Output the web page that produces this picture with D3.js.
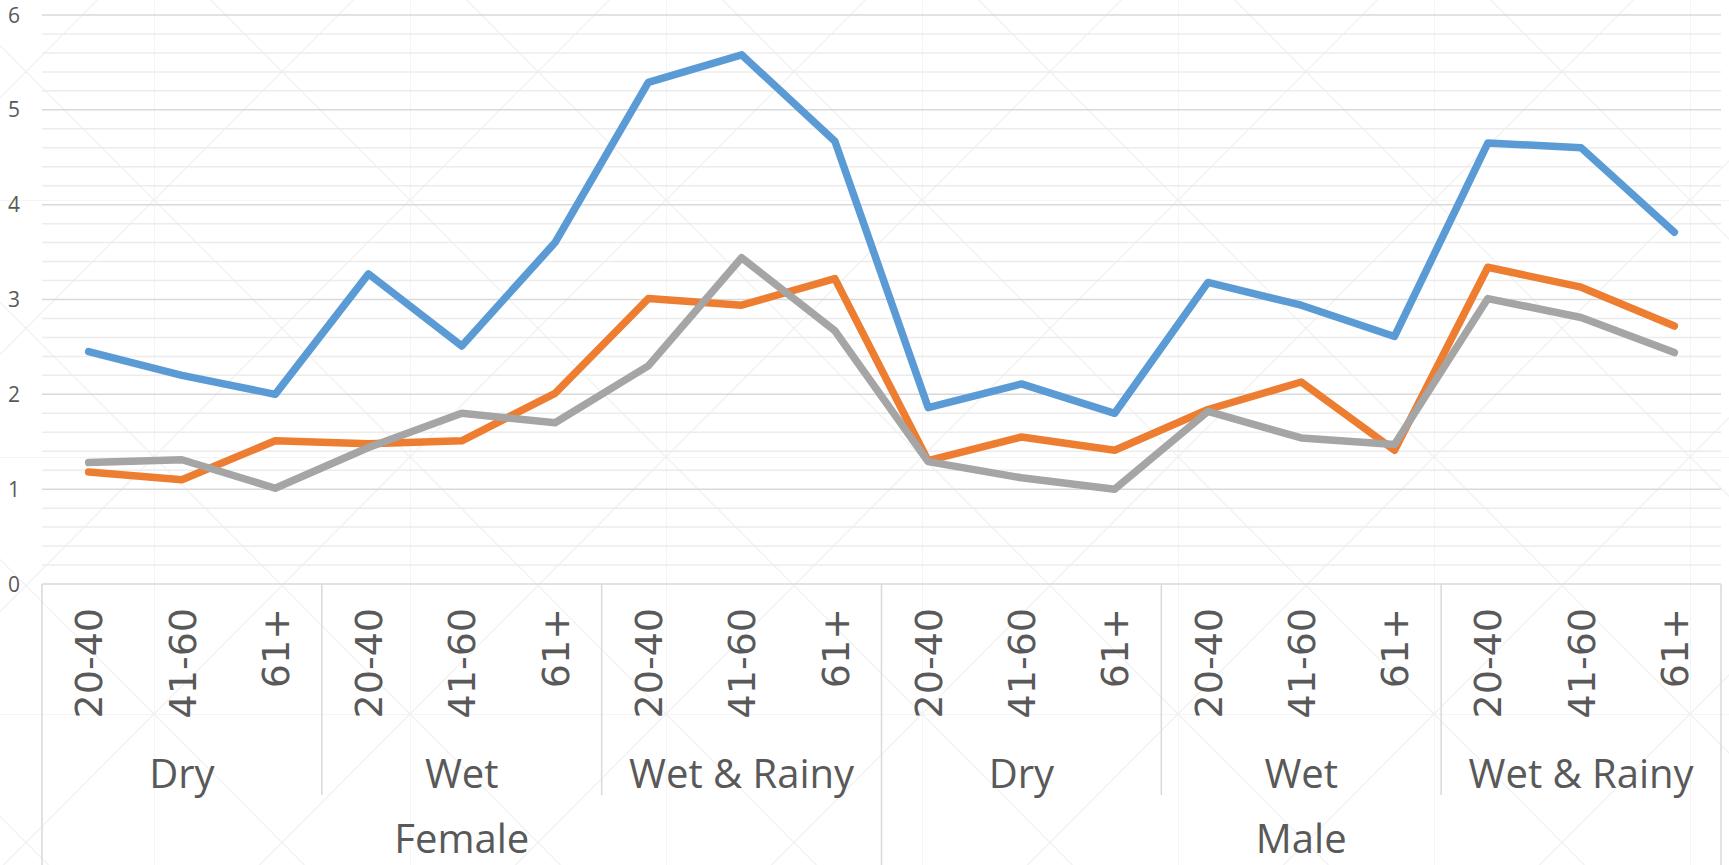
<!DOCTYPE html>
<html>
<head>
<meta charset="utf-8">
<script src="https://cdnjs.cloudflare.com/ajax/libs/d3/7.8.5/d3.min.js"></script>
<style>
  html, body { margin: 0; padding: 0; background: #fff; overflow: hidden; }
  svg { display: block; }
  text { font-family: "Open Sans", "Noto Sans", sans-serif; fill: #595959; }
</style>
</head>
<body>
<svg id="chart" width="1729" height="865"></svg>
<script>
// categories (3 levels)
var genders = ["Female", "Male"];
var seasons = ["Dry", "Wet", "Wet & Rainy"];
var ages = ["20-40", "41-60", "61+"];
var yTicks = [0, 1, 2, 3, 4, 5, 6];

// series values, one per gender/season/age
var seriesBlue = [2.45, 2.20, 2.00, 3.27, 2.51, 3.60, 5.29, 5.58, 4.67,
                  1.86, 2.11, 1.80, 3.18, 2.94, 2.61, 4.65, 4.60, 3.71];
var seriesOrange = [1.18, 1.10, 1.51, 1.48, 1.51, 2.01, 3.01, 2.94, 3.22,
                    1.30, 1.55, 1.41, 1.84, 2.13, 1.41, 3.34, 3.13, 2.72];
var seriesGray = [1.28, 1.31, 1.01, 1.44, 1.80, 1.70, 2.30, 3.44, 2.67,
                  1.29, 1.12, 1.00, 1.82, 1.54, 1.47, 3.01, 2.81, 2.44];

function draw_chart()
{
    var svg = d3.select("svg#chart"),
        width = +svg.attr("width"),
        height = +svg.attr("height");

    var left = 42, right = 1721, top = 15, bottom = 584;

    // faint background pattern (diamond grid)
    var defs = svg.append("defs");
    var pat = defs.append("pattern")
        .attr("id", "bgpat")
        .attr("patternUnits", "userSpaceOnUse")
        .attr("x", 154).attr("y", 200)
        .attr("width", 256).attr("height", 257);
    var pc = "#f0f0f0";
    pat.append("line").attr("x1", 0).attr("y1", 0).attr("x2", 256).attr("y2", 0).attr("stroke", pc).attr("stroke-width", 1.5);
    pat.append("line").attr("x1", 0).attr("y1", 0).attr("x2", 0).attr("y2", 257).attr("stroke", pc).attr("stroke-width", 1.5);
    pat.append("line").attr("x1", 0).attr("y1", 0).attr("x2", 256).attr("y2", 257).attr("stroke", pc).attr("stroke-width", 1.2);
    pat.append("line").attr("x1", 256).attr("y1", 0).attr("x2", 0).attr("y2", 257).attr("stroke", pc).attr("stroke-width", 1.2);
    svg.append("rect").attr("width", width).attr("height", height).attr("fill", "url(#bgpat)");

    // build flat category list
    var cats = [];
    genders.forEach(function(g) {
        seasons.forEach(function(s) {
            ages.forEach(function(a) {
                cats.push({gender: g, season: s, age: a, key: g + "|" + s + "|" + a});
            });
        });
    });

    var x = d3.scaleBand()
        .domain(cats.map(function(d) { return d.key; }))
        .range([left, right])
        .padding(0);
    var y = d3.scaleLinear().domain([0, 6]).range([bottom, top]);

    // minor gridlines
    svg.append("g").selectAll("line")
        .data(y.ticks(30).filter(function(t) { return Math.abs(t - Math.round(t)) > 1e-6; }))
        .enter().append("line")
        .attr("x1", left).attr("x2", right)
        .attr("y1", function(d) { return y(d); })
        .attr("y2", function(d) { return y(d); })
        .attr("stroke", "#ececec").attr("stroke-width", 1.5);

    // major gridlines
    svg.append("g").selectAll("line")
        .data(yTicks.slice(1))
        .enter().append("line")
        .attr("x1", left).attr("x2", right)
        .attr("y1", function(d) { return y(d); })
        .attr("y2", function(d) { return y(d); })
        .attr("stroke", "#d9d9d9").attr("stroke-width", 1.5);

    // y axis labels
    svg.append("g").selectAll("text")
        .data(yTicks)
        .enter().append("text")
        .attr("x", 20)
        .attr("y", function(d) { return y(d); })
        .attr("dy", "0.36em")
        .attr("text-anchor", "end")
        .attr("font-size", "21px")
        .text(function(d) { return d; });

    // category axis line + separators
    var axisG = svg.append("g").attr("stroke", "#d9d9d9").attr("stroke-width", 1.5);
    axisG.append("line").attr("x1", left).attr("x2", right).attr("y1", bottom).attr("y2", bottom);
    var bw = x.bandwidth();
    var nA = ages.length, nS = seasons.length;
    // season separators (short), gender separators (full height)
    d3.range(0, cats.length + 1, nA).forEach(function(i) {
        var xx = left + i * bw;
        var full = (i % (nA * nS) === 0);
        axisG.append("line")
            .attr("x1", xx).attr("x2", xx)
            .attr("y1", bottom).attr("y2", full ? height : 795);
    });

    // age labels (rotated)
    svg.append("g").selectAll("text")
        .data(cats)
        .enter().append("text")
        .attr("transform", function(d) {
            return "translate(" + (x(d.key) + bw / 2) + ",608)rotate(-90)";
        })
        .attr("dy", "0.36em")
        .attr("text-anchor", "end")
        .attr("font-size", "38px")
        .style("font-family", "'DejaVu Sans', sans-serif")
        .text(function(d) { return d.age; });

    // season labels
    var seasonCats = [];
    genders.forEach(function(g) {
        seasons.forEach(function(s) { seasonCats.push({gender: g, season: s}); });
    });
    svg.append("g").selectAll("text")
        .data(seasonCats)
        .enter().append("text")
        .attr("x", function(d) {
            return x(d.gender + "|" + d.season + "|" + ages[0]) + bw * nA / 2;
        })
        .attr("y", 788)
        .attr("text-anchor", "middle")
        .attr("font-size", "40px")
        .text(function(d) { return d.season; });

    // gender labels
    svg.append("g").selectAll("text")
        .data(genders)
        .enter().append("text")
        .attr("x", function(d) {
            return x(d + "|" + seasons[0] + "|" + ages[0]) + bw * nA * nS / 2;
        })
        .attr("y", 853)
        .attr("text-anchor", "middle")
        .attr("font-size", "40px")
        .text(function(d) { return d; });

    // lines
    var line = d3.line()
        .x(function(d, i) { return x(cats[i].key) + bw / 2; })
        .y(function(d) { return y(d); });

    var series = [
        {vals: seriesBlue, color: "#5b9bd5"},
        {vals: seriesOrange, color: "#ed7d31"},
        {vals: seriesGray, color: "#a5a5a5"}
    ];
    svg.append("g").selectAll("path")
        .data(series)
        .enter().append("path")
        .attr("d", function(d) { return line(d.vals); })
        .attr("fill", "none")
        .attr("stroke", function(d) { return d.color; })
        .attr("stroke-width", 7.5)
        .attr("stroke-linejoin", "round")
        .attr("stroke-linecap", "round");
}

draw_chart();
</script>
</body>
</html>
